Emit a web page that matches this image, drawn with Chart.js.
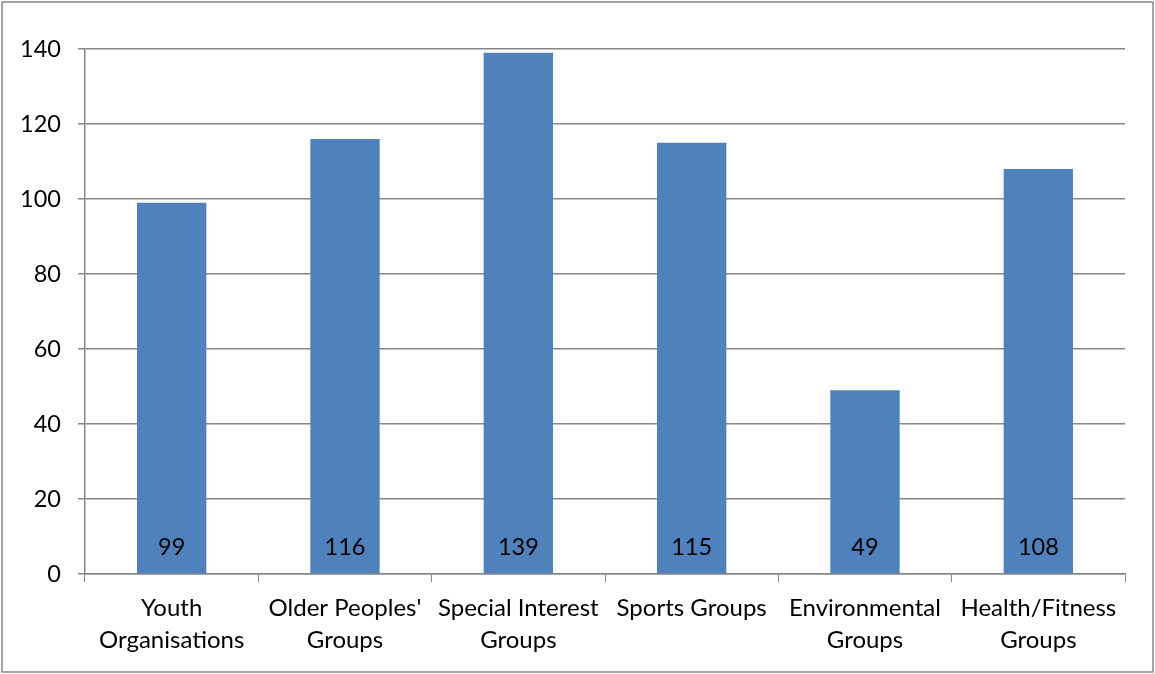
<!DOCTYPE html>
<html>
<head>
<meta charset="utf-8">
<script src="https://cdn.jsdelivr.net/npm/chart.js@4/dist/chart.umd.min.js"></script>
<style>
  html, body { margin: 0; padding: 0; background: #fff; }
  #wrap { width: 1155px; height: 674px; position: relative; }
</style>
</head>
<body>
<div id="wrap"><canvas id="chart" width="1155" height="674"></canvas></div>
<script>
const categories = [
    ['Youth', 'Organisations'],
    ["Older Peoples'", 'Groups'],
    ['Special Interest', 'Groups'],
    ['Sports Groups'],
    ['Environmental', 'Groups'],
    ['Health/Fitness', 'Groups']
];
const counts = [99, 116, 139, 115, 49, 108];
const yTicks = [0, 20, 40, 60, 80, 100, 120, 140];

const axisGrey = '#868686';
const fontFamily = 'Lato, "Open Sans", sans-serif';

// outer frame round the whole chart
const framePlugin = {
    id: 'frame',
    beforeDraw(chart) {
        const ctx = chart.ctx;
        ctx.save();
        ctx.fillStyle = '#fff';
        ctx.fillRect(0, 0, chart.width, chart.height);
        ctx.strokeStyle = axisGrey;
        ctx.lineWidth = 1.5;
        ctx.strokeRect(2, 2, chart.width - 4, chart.height - 4);
        ctx.restore();
    }
};

// value labels at the foot of each bar
const barLabels = {
    id: 'barLabels',
    afterDatasetsDraw(chart) {
        const ctx = chart.ctx;
        const meta = chart.getDatasetMeta(0);
        const base = chart.scales.y.getPixelForValue(0);
        ctx.save();
        ctx.font = '23.5px ' + fontFamily;
        ctx.fillStyle = '#000';
        ctx.textAlign = 'center';
        ctx.textBaseline = 'middle';
        meta.data.forEach((bar, i) => {
            ctx.fillText(String(counts[i]), bar.x, base - 27);
        });
        ctx.restore();
    }
};

new Chart(document.getElementById('chart').getContext('2d'), {
    type: 'bar',
    data: {
        labels: categories,
        datasets: [{
            data: counts,
            backgroundColor: '#4F81BD',
            borderWidth: 0,
            categoryPercentage: 1,
            barPercentage: 0.4
        }]
    },
    options: {
        responsive: false,
        animation: false,
        layout: { padding: { left: 10, right: 30, top: 49, bottom: 10 } },
        plugins: {
            legend: { display: false },
            tooltip: { enabled: false }
        },
        scales: {
            x: {
                offset: true,
                grid: {
                    offset: true,
                    drawOnChartArea: false,
                    color: axisGrey,
                    tickLength: 8
                },
                border: { color: axisGrey, width: 1.5 },
                ticks: {
                    color: '#000',
                    font: { family: fontFamily, size: 24, lineHeight: 1.33 },
                    padding: 10,
                    maxRotation: 0,
                    autoSkip: false
                },
                afterFit(scale) { scale.height = 90; }
            },
            y: {
                min: 0,
                max: 140,
                afterBuildTicks(scale) { scale.ticks = yTicks.map(v => ({ value: v })); },
                grid: {
                    color: axisGrey,
                    lineWidth: 1.5,
                    tickLength: 7
                },
                border: { color: axisGrey, width: 1.5 },
                ticks: {
                    color: '#000',
                    font: { family: fontFamily, size: 23.5 },
                    padding: 17
                },
                afterFit(scale) { scale.width = 75; }
            }
        }
    },
    plugins: [framePlugin, barLabels]
});
</script>
</body>
</html>
